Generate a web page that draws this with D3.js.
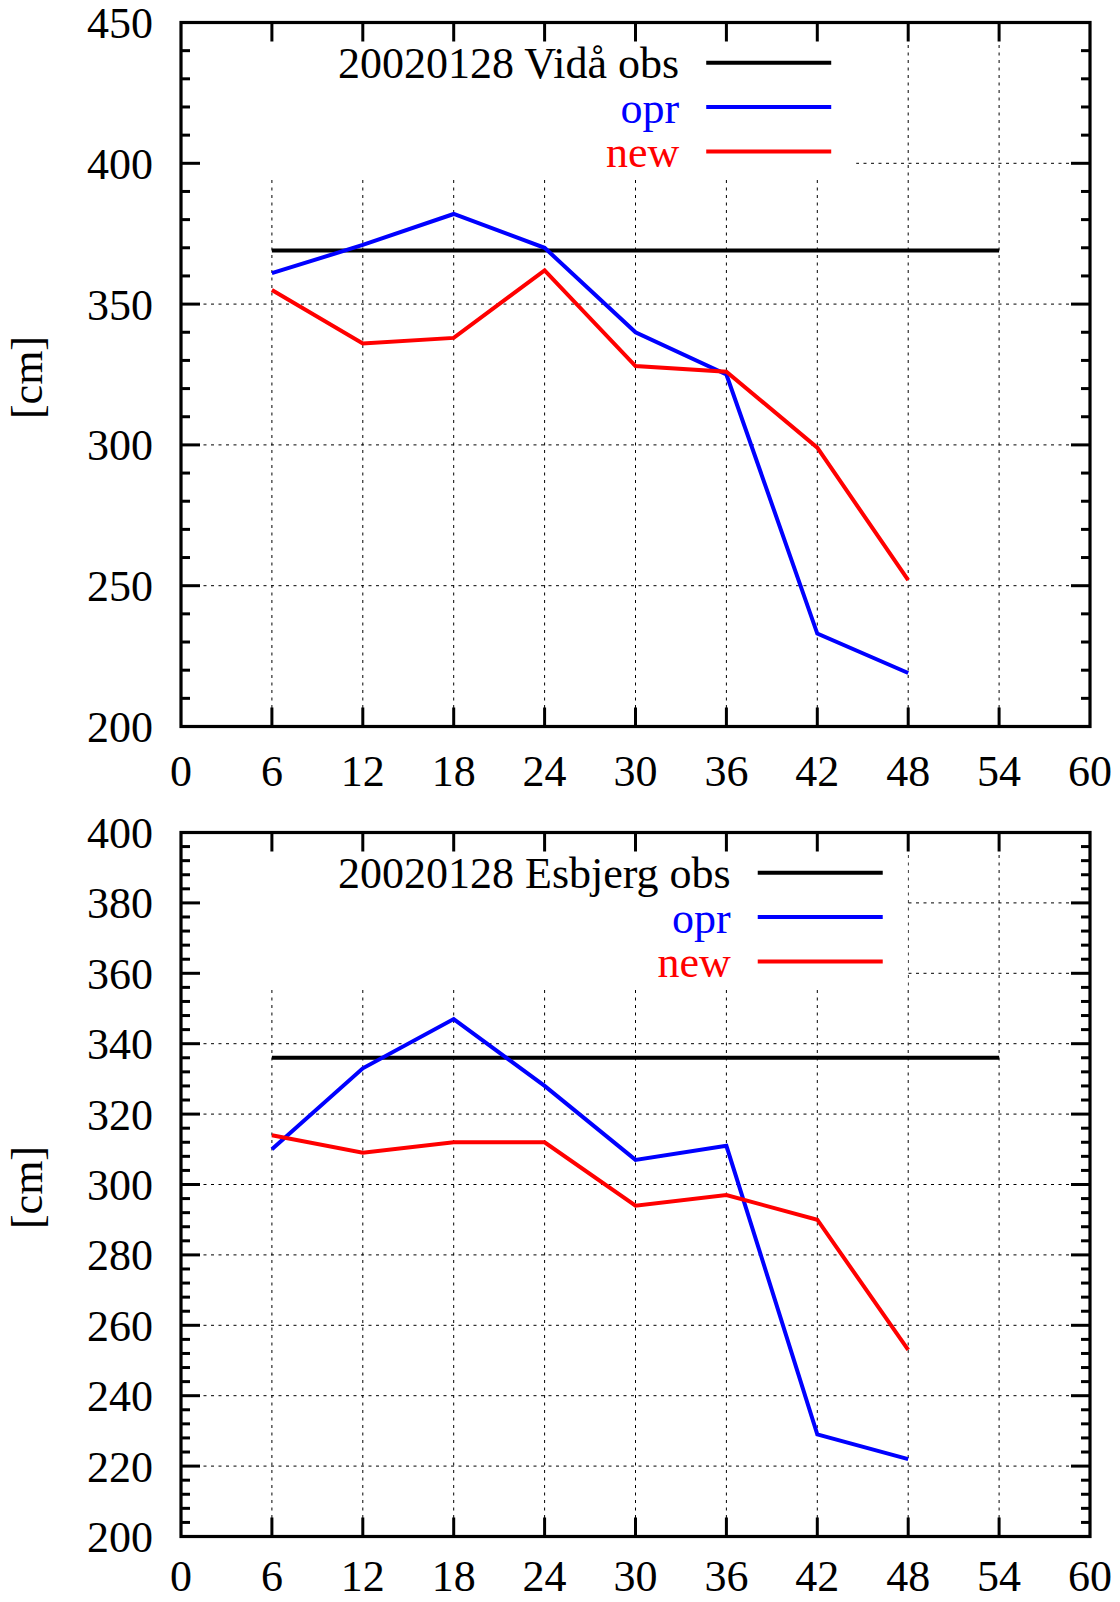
<!DOCTYPE html>
<html>
<head>
<meta charset="utf-8">
<script src="https://cdn.jsdelivr.net/npm/d3@7"></script>
<style>
body { margin: 0; background: #fff; }
text { font-family: 'Liberation Serif', 'Times New Roman', serif; font-size: 44px; }
</style>
</head>
<body>
<svg id="chart"></svg>
<script>

// Data
var hours = [6, 12, 18, 24, 30, 36, 42, 48];
var obsHours = [6, 12, 18, 24, 30, 36, 42, 48, 54];
var xTicks = [0, 6, 12, 18, 24, 30, 36, 42, 48, 54, 60];

var vidaObs = [369, 369, 369, 369, 369, 369, 369, 369, 369];
var vidaOpr = [361, 371, 382, 370, 340, 325, 233, 219];
var vidaNew = [355, 336, 338, 362, 328, 326, 299, 252];
var vidaTicks = [200, 250, 300, 350, 400, 450];

var esbjergObs = [336, 336, 336, 336, 336, 336, 336, 336, 336];
var esbjergOpr = [310, 333, 347, 328, 307, 311, 229, 222];
var esbjergNew = [314, 309, 312, 312, 294, 297, 290, 253];
var esbjergTicks = [200, 220, 240, 260, 280, 300, 320, 340, 360, 380, 400];

var seriesNames = ['obs', 'opr', 'new'];
var seriesColors = ['#000000', '#0000ff', '#ff0000'];

// Layout
var W = 1120, H = 1602;
var left = 181, right = 1090, plotH = 704;
var majorLen = 19, minorLen = 9;

var svg = d3.select('#chart').attr('width', W).attr('height', H);
svg.append('rect').attr('width', W).attr('height', H).attr('fill', '#fff');

var panels = [
    { title: '20020128 Vidå obs', obs: vidaObs, opr: vidaOpr, neu: vidaNew, ticks: vidaTicks, minorStep: 10, top: 22.5 },
    { title: '20020128 Esbjerg obs', obs: esbjergObs, opr: esbjergOpr, neu: esbjergNew, ticks: esbjergTicks, minorStep: 4, top: 832.5 }
];

panels.forEach(function (p) {
    var top = p.top, bottom = top + plotH;
    var yMin = p.ticks[0], yMax = p.ticks[p.ticks.length - 1];

    var x = d3.scaleLinear().domain([0, 60]).range([left, right]);
    var y = d3.scaleLinear().domain([yMin, yMax]).range([bottom, top]);

    var g = svg.append('g');

    // Dotted grid at the major ticks
    g.selectAll('.gx').data(xTicks.slice(1, -1)).enter().append('line')
        .attr('x1', function (d) { return x(d); }).attr('x2', function (d) { return x(d); })
        .attr('y1', top).attr('y2', bottom)
        .attr('stroke', '#000').attr('stroke-width', 1).attr('stroke-dasharray', '3,4.5');
    g.selectAll('.gy').data(p.ticks.slice(1, -1)).enter().append('line')
        .attr('x1', left).attr('x2', right)
        .attr('y1', function (d) { return y(d); }).attr('y2', function (d) { return y(d); })
        .attr('stroke', '#000').attr('stroke-width', 1).attr('stroke-dasharray', '3,4.5');

    // Key: text right-justified, then a sample line; the key area hides the grid
    var keyLeft = 338, rowY = top + 40.3, rowGap = 44.3;
    var labels = [p.title, seriesNames[1], seriesNames[2]];
    var tmp = g.append('text').text(p.title);
    var textW = tmp.node().getComputedTextLength();
    tmp.remove();
    var textRight = keyLeft + textW;
    var lineX1 = textRight + 27, lineX2 = lineX1 + 125;

    g.append('rect')
        .attr('x', left + 2).attr('y', top + 2)
        .attr('width', lineX2 + 25 - left - 2).attr('height', 153.5)
        .attr('fill', '#fff');

    // Series
    var line = d3.line()
        .x(function (d) { return x(d[0]); })
        .y(function (d) { return y(d[1]); });

    var series = [
        d3.zip(obsHours, p.obs),
        d3.zip(hours, p.opr),
        d3.zip(hours, p.neu)
    ];
    series.forEach(function (s, i) {
        g.append('path').datum(s)
            .attr('d', line)
            .attr('fill', 'none')
            .attr('stroke', seriesColors[i])
            .attr('stroke-width', 4)
            .attr('stroke-linejoin', 'miter');
    });

    labels.forEach(function (t, i) {
        var yy = rowY + i * rowGap;
        g.append('text')
            .attr('x', textRight).attr('y', yy).attr('dy', '0.35em')
            .attr('text-anchor', 'end')
            .attr('fill', seriesColors[i])
            .text(t);
        g.append('line')
            .attr('x1', lineX1).attr('x2', lineX2)
            .attr('y1', yy).attr('y2', yy)
            .attr('stroke', seriesColors[i]).attr('stroke-width', 4);
    });

    // Border
    g.append('rect')
        .attr('x', left).attr('y', top)
        .attr('width', right - left).attr('height', plotH)
        .attr('fill', 'none').attr('stroke', '#000').attr('stroke-width', 3.2);

    // x ticks, bottom and top, pointing inward
    xTicks.slice(1, -1).forEach(function (d) {
        g.append('line').attr('x1', x(d)).attr('x2', x(d)).attr('y1', bottom).attr('y2', bottom - majorLen)
            .attr('stroke', '#000').attr('stroke-width', 3);
        g.append('line').attr('x1', x(d)).attr('x2', x(d)).attr('y1', top).attr('y2', top + majorLen)
            .attr('stroke', '#000').attr('stroke-width', 3);
    });

    // y ticks, left and right, major and minor
    var minor = d3.range(yMin, yMax + 0.001, p.minorStep);
    minor.forEach(function (d) {
        var isMajor = p.ticks.indexOf(d) >= 0;
        var len = isMajor ? majorLen : minorLen;
        g.append('line').attr('x1', left).attr('x2', left + len).attr('y1', y(d)).attr('y2', y(d))
            .attr('stroke', '#000').attr('stroke-width', 3);
        g.append('line').attr('x1', right).attr('x2', right - len).attr('y1', y(d)).attr('y2', y(d))
            .attr('stroke', '#000').attr('stroke-width', 3);
    });

    // Tick labels (kept inside the page at the very bottom)
    var xLabelY = Math.min(bottom + 59.5, H - 11);
    g.selectAll('.xl').data(xTicks).enter().append('text')
        .attr('x', function (d) { return x(d); })
        .attr('y', xLabelY)
        .attr('text-anchor', 'middle')
        .text(function (d) { return d; });
    g.selectAll('.yl').data(p.ticks).enter().append('text')
        .attr('x', 153)
        .attr('y', function (d) { return y(d); })
        .attr('dy', '0.35em')
        .attr('text-anchor', 'end')
        .text(function (d) { return d; });

    // Axis title
    g.append('text')
        .attr('transform', 'translate(42,' + (top + plotH / 2 + 3) + ')rotate(-90)')
        .attr('text-anchor', 'middle')
        .text('[cm]');
});

</script>
</body>
</html>
